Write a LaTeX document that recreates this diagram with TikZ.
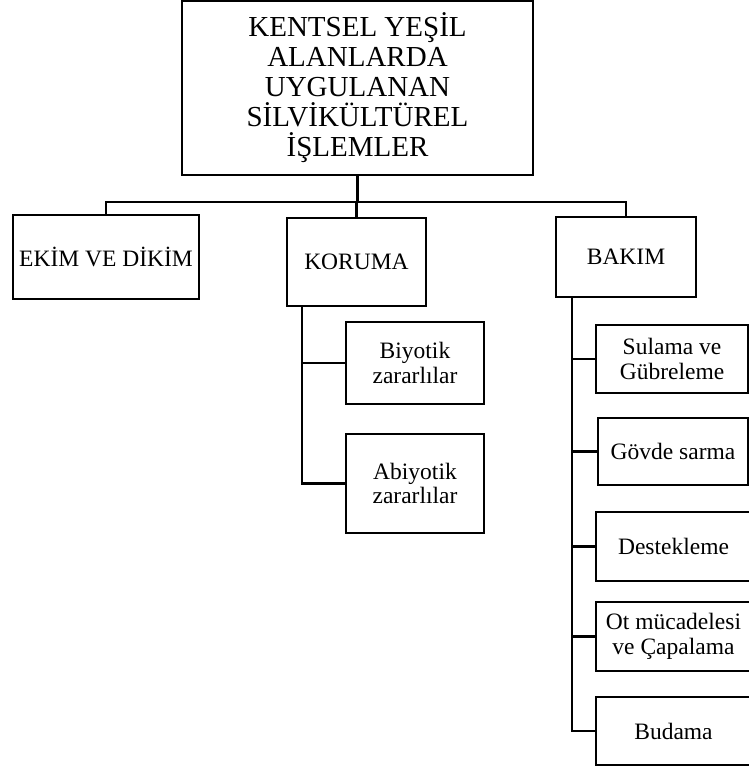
\documentclass[tikz,border=0pt]{standalone}
\usepackage{fontspec}
\setmainfont{Liberation Serif}
\tikzset{
  kutu/.style={draw, line width=2.6pt, inner sep=0pt, align=center,
    font=\fontsize{23.5}{24.5}\selectfont},
  baglanti/.style={line width=2.8pt},
}

\begin{document}
\begin{tikzpicture}[x=1pt, y=-1pt]
  \useasboundingbox (0,0) rectangle (749,769);
  % ana kutu
  \node[kutu, font=\fontsize{29}{30}\selectfont, minimum width=351pt, minimum height=174pt]
    (ust) at (357.5,88) {KENTSEL YEŞİL\\ALANLARDA\\UYGULANAN\\SİLVİKÜLTÜREL\\İŞLEMLER};
  % ikinci seviye
  \node[kutu, minimum width=186pt, minimum height=84pt] (ekim) at (106,257) {EKİM VE DİKİM};
  \node[kutu, minimum width=139pt, minimum height=88pt] (koruma) at (356.5,262) {KORUMA};
  \node[kutu, minimum width=140pt, minimum height=80pt] (bakim) at (626,257) {BAKIM};
  % koruma alt kutulari
  \node[kutu, minimum width=138pt, minimum height=82pt] (biyotik) at (415,363) {Biyotik\\zararlılar};
  \node[kutu, minimum width=138pt, minimum height=99pt] (abiyotik) at (415,483.5) {Abiyotik\\zararlılar};
  % bakim alt kutulari
  \node[kutu, minimum width=152pt, minimum height=68pt] (sulama) at (672,359) {Sulama ve\\Gübreleme};
  \node[kutu, minimum width=150pt, minimum height=67pt] (govde) at (673,451.5) {Gövde sarma};
  \node[kutu, minimum width=155pt, minimum height=69pt] (destek) at (673.5,546.5) {Destekleme};
  \node[kutu, minimum width=155pt, minimum height=69pt] (ot) at (673.5,636.5) {Ot mücadelesi\\ve Çapalama};
  \node[kutu, minimum width=155pt, minimum height=68pt] (budama) at (673.5,731) {Budama};
  % baglantilar
  \coordinate (hat) at (0,202);
  \coordinate (kx) at (302,0);
  \coordinate (bx) at (572,0);
  \draw[baglanti] (ust.south) -- (ust.south |- hat);
  \draw[baglanti] (ekim.north) |- (bakim.north |- hat) -- (bakim.north);
  \draw[baglanti] (koruma.north |- hat) -- (koruma.north);
  \draw[baglanti] (koruma.south -| kx) |- (abiyotik.west);
  \draw[baglanti] (biyotik.west -| kx) -- (biyotik.west);
  \draw[baglanti] (bakim.south -| bx) |- (budama.west);
  \foreach \n in {sulama, govde, destek, ot}
    \draw[baglanti] (\n.west -| bx) -- (\n.west);
\end{tikzpicture}
\end{document}
